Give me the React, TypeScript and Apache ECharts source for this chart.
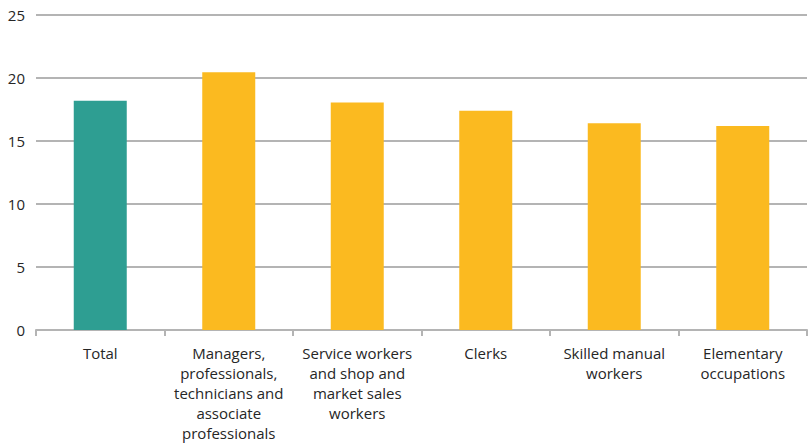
import React, { useEffect, useRef } from "react";
import * as echarts from "echarts";

const categories = [
  "Total",
  "Managers,\nprofessionals,\ntechnicians and\nassociate\nprofessionals",
  "Service workers\nand shop and\nmarket sales\nworkers",
  "Clerks",
  "Skilled manual\nworkers",
  "Elementary\noccupations",
];
const values = [18.2, 20.45, 18.05, 17.4, 16.4, 16.2];
const barColors = ["#2e9e92", "#fbba20", "#fbba20", "#fbba20", "#fbba20", "#fbba20"];

export default function App() {
  const ref = useRef<HTMLDivElement>(null);
  useEffect(() => {
    if (!ref.current) return;
    const chart = echarts.init(ref.current, undefined, { renderer: "svg" });
    chart.setOption({
      animation: false,
      grid: { left: 36, right: 2, top: 15, bottom: 108, containLabel: false },
      xAxis: {
        type: "category",
        data: categories,
        axisLine: { show: true, lineStyle: { color: "#b4b4b4", width: 2 } },
        axisTick: { show: true, length: 6, lineStyle: { color: "#b4b4b4", width: 2 } },
        axisLabel: {
          color: "#262626",
          fontSize: 15,
          fontFamily: "Open Sans",
          lineHeight: 20,
          margin: 13,
          interval: 0,
        },
      },
      yAxis: {
        type: "value",
        min: 0,
        max: 25,
        interval: 5,
        axisLine: { show: false },
        axisTick: { show: false },
        splitLine: { lineStyle: { color: "#b4b4b4", width: 2 } },
        axisLabel: {
          color: "#262626",
          fontSize: 15,
          fontFamily: "Open Sans",
          margin: 11,
        },
      },
      series: [
        {
          type: "bar",
          data: values.map((v, i) => ({ value: v, itemStyle: { color: barColors[i] } })),
          barWidth: 53,
        },
      ],
    });
    return () => chart.dispose();
  }, []);
  return (
    <div
      ref={ref}
      style={{ position: "fixed", left: 0, top: 0, width: 809, height: 443, background: "#fff" }}
    />
  );
}
